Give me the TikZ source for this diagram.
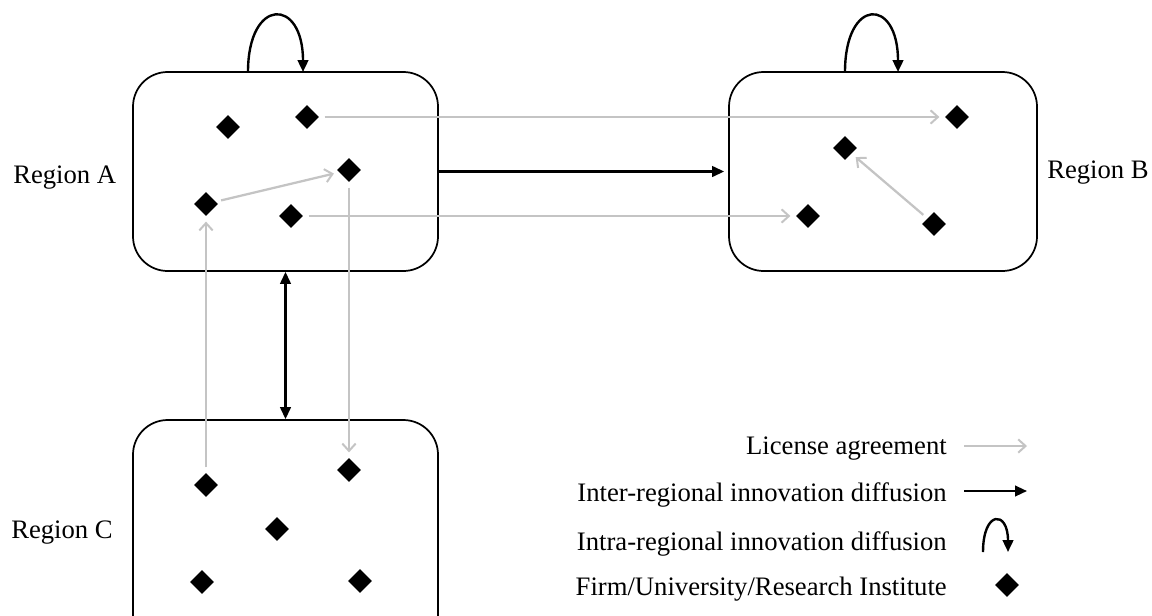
\documentclass[tikz,border=0pt]{standalone}
\usepackage{fontspec}
\setmainfont{Liberation Serif}
\usetikzlibrary{arrows.meta,shapes.geometric,fit}
\begin{document}
\begin{tikzpicture}[x=0.75pt,y=-0.75pt,
  region/.style={draw=black,line width=1.3pt,rounded corners=26pt,inner sep=0pt},
  actor/.style={diamond,fill=black,draw=none,inner sep=0pt,minimum width=18pt,minimum height=18pt},
  license/.style={draw={rgb,255:red,196;green,196;blue,196},line width=1.7pt,
    -{Straight Barb[length=5.5pt,width=10pt,line width=1.5pt]},shorten <=4pt,shorten >=4pt},
  inter/.style={draw=black,line width=1.6pt,-{Triangle[length=9pt,width=8pt]}},
  intra/.style={draw=black,line width=1.8pt,-{Triangle[length=9pt,width=8pt]}},
  lbl/.style={font=\fontsize{20}{24}\selectfont,inner sep=0pt},
]
\useasboundingbox (0,0) rectangle (1152,615);
\clip (0,0) rectangle (1152,615);

% regions
\node[region,fit={(133,72) (438,271)}] (A) {};
\node[region,fit={(729,72) (1037,271)}] (B) {};
\node[region,fit={(133,420) (438,660)}] (C) {};

\node[lbl,anchor=west] (lA) at (13,178) {Region A};
\node[lbl,anchor=west] (lB) at (1047,173) {Region B};
\node[lbl,anchor=west] (lC) at (11,533) {Region C};

% actors in region A
\node[actor] (a1) at (228,127) {};
\node[actor] (a2) at (307,117) {};
\node[actor] (a3) at (349,170) {};
\node[actor] (a4) at (206,204) {};
\node[actor] (a5) at (291,216) {};
% actors in region B
\node[actor] (b1) at (957,117) {};
\node[actor] (b2) at (845,148) {};
\node[actor] (b3) at (808,216) {};
\node[actor] (b4) at (934,224) {};
% actors in region C
\node[actor] (c1) at (206,485) {};
\node[actor] (c2) at (349,470) {};
\node[actor] (c3) at (277,529) {};
\node[actor] (c4) at (202,582) {};
\node[actor] (c5) at (360,581) {};

% license agreements
\draw[license] (a2) -- (b1);
\draw[license] (a5) -- (b3);
\draw[license] (a4) -- (a3);
\draw[license] (a3) -- (c2);
\draw[license] (c1) -- (a4);
\draw[license] (b4) -- (b2);

% inter-regional diffusion
\draw[inter,shorten >=3pt] (A.east) -- (B.west);
\draw[inter,{Triangle[length=9pt,width=8pt]}-{Triangle[length=9pt,width=8pt]}] (A.south) -- (C.north);

% intra-regional diffusion loops
\coordinate (lA1) at (248,72);
\coordinate (lA2) at (303,72);
\coordinate (lB1) at (845,72);
\coordinate (lB2) at (898,72);
\draw[intra] (lA1) .. controls (248,-3) and (303,-3) .. (lA2);
\draw[intra] (lB1) .. controls (845,-3) and (898,-3) .. (lB2);

% legend
\node[lbl,anchor=east] (t1) at (947,449) {License agreement};
\node[lbl,anchor=east] (t2) at (947,495) {Inter-regional innovation diffusion};
\node[lbl,anchor=east] (t3) at (947,544) {Intra-regional innovation diffusion};
\node[lbl,anchor=east] (t4) at (947,589) {Firm/University/Research Institute};

\coordinate (g1) at (964,446);
\coordinate (g2) at (1027,446);
\draw[license,shorten <=0pt,shorten >=0pt] (g1) -- (g2);
\coordinate (k1) at (964,491);
\coordinate (k2) at (1027,491);
\draw[inter] (k1) -- (k2);
\coordinate (m1) at (983,552);
\coordinate (m2) at (1008,552);
\draw[intra] (m1) .. controls (983,510) and (1008,510) .. (m2);
\node[actor] (d) at (1007,585) {};
\end{tikzpicture}
\end{document}
